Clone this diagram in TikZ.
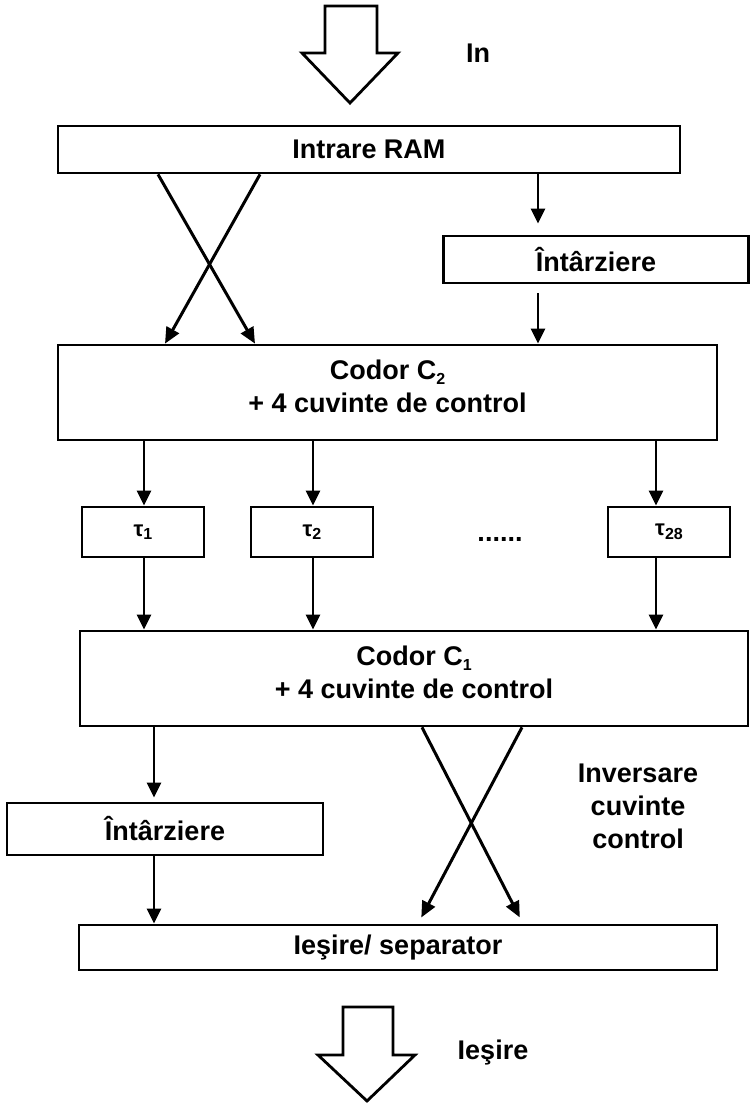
\documentclass[tikz,border=0pt]{standalone}
\usepackage{fontspec}
\setmainfont{Liberation Sans}
\usetikzlibrary{arrows.meta}
\newcommand{\lbl}{\fontsize{27}{33}\selectfont\bfseries}
\newcommand{\taulbl}{\fontsize{22}{26}\selectfont\bfseries}
\newcommand{\sbs}[1]{\raisebox{-0.3ex}{\fontsize{16}{16}\selectfont\bfseries #1}}
\begin{document}
\begin{tikzpicture}[x=1pt,y=-1pt,
  box/.style={draw, line width=2.7pt, inner sep=0pt, font=\lbl, align=center},
  taubox/.style={draw, line width=2.7pt, inner sep=0pt, font=\taulbl,
    minimum width=122pt, minimum height=50pt},
  conn/.style={line width=2.8pt, -{Triangle[width=14pt,length=15pt]}},
  cross/.style={line width=3pt, -{Triangle[width=14pt,length=16pt]}},
  bigarrow/.style={draw, line width=2.8pt, line join=miter},
  txt/.style={font=\lbl, inner sep=0pt, align=center}]
\useasboundingbox (0,0) rectangle (751,1104);

% big input arrow
\draw[bigarrow] (325,6) -- (377,6) -- (377,53) -- (398,53) -- (350,103)
  -- (302,53) -- (325,53) -- cycle;
\node[txt] (in) at (478,53) {In};

% boxes
\node[box, minimum width=622pt, minimum height=47pt] (ram) at (369,149.5) {Intrare RAM};
\node[box, minimum width=305pt, minimum height=47pt] (del1) at (596,259.5) {Întârziere};
\node[box, minimum width=659pt, minimum height=95pt, text depth=12pt] (c2) at (387.5,392.5)
  {Codor C\sbs{2}\\+ 4 cuvinte de control};
\node[taubox] (t1) at (143,532) {τ\sbs{1}};
\node[taubox] (t2) at (312,532) {τ\sbs{2}};
\node[taubox] (t28) at (669,532) {τ\sbs{28}};
\node[txt, anchor=base] (dots) at (500,541) {......};
\node[box, minimum width=668pt, minimum height=95pt, text depth=12pt] (c1) at (414,678.5)
  {Codor C\sbs{1}\\+ 4 cuvinte de control};
\node[box, minimum width=316pt, minimum height=52pt] (del2) at (165,829) {Întârziere};
\node[txt] (inv) at (638,806) {Inversare\\cuvinte\\control};
\node[box, minimum width=638pt, minimum height=45pt] (out) at (398,947.5) {Ieşire/ separator};

% big output arrow
\draw[bigarrow] (343,1007) -- (393,1007) -- (393,1055) -- (415,1055) -- (367,1101)
  -- (318,1055) -- (343,1055) -- cycle;
\node[txt] (outlbl) at (493,1053) {Ieşire};

% x positions
\coordinate (xa) at (538,0);
\coordinate (xb) at (144,0);
\coordinate (xc) at (313,0);
\coordinate (xd) at (656,0);
\coordinate (xe) at (154,0);
\coordinate (xf) at (158,0);
\coordinate (xg) at (260,0);
\coordinate (xh) at (255,0);
\coordinate (xi) at (165,0);
\coordinate (xj) at (422,0);
\coordinate (xk) at (522,0);
\coordinate (xl) at (523,0);
\coordinate (xm) at (418,0);

% connectors
\draw[conn, shorten >=11pt] (ram.south -| xa) -- (del1.north -| xa);
\draw[conn, shorten <=9pt] (del1.south -| xa) -- (c2.north -| xa);
\draw[cross] (ram.south -| xf) -- (c2.north -| xh);
\draw[cross] (ram.south -| xg) -- (c2.north -| xi);
\draw[conn] (c2.south -| xb) -- (t1.north -| xb);
\draw[conn] (c2.south -| xc) -- (t2.north -| xc);
\draw[conn] (c2.south -| xd) -- (t28.north -| xd);
\draw[conn] (t1.south -| xb) -- (c1.north -| xb);
\draw[conn] (t2.south -| xc) -- (c1.north -| xc);
\draw[conn] (t28.south -| xd) -- (c1.north -| xd);
\draw[conn, shorten >=4pt] (c1.south -| xe) -- (del2.north -| xe);
\draw[conn] (del2.south -| xe) -- (out.north -| xe);
\draw[cross, shorten >=7pt] (c1.south -| xj) -- (out.north -| xl);
\draw[cross, shorten >=7pt] (c1.south -| xk) -- (out.north -| xm);
\end{tikzpicture}
\end{document}
